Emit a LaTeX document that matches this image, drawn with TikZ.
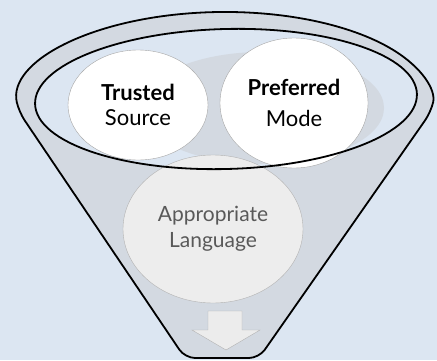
\documentclass[tikz,border=0pt]{standalone}
\usepackage{fontspec}
\setmainfont{Lato}
\usepackage{tikz}
\usetikzlibrary{shapes.geometric, positioning}
\definecolor{bgblue}{HTML}{DCE6F2}
\definecolor{funnelgray}{HTML}{D3D9E1}
\definecolor{langgray}{HTML}{EDEDED}
\definecolor{langtext}{HTML}{595959}
\tikzstyle{funnelline} = [line width=1.8pt, draw=black]
\tikzstyle{topstate} = [ellipse, draw=gray!70, fill=white, inner sep=0pt, align=center, text centered, font=\fontsize{22}{25}\selectfont]
\tikzstyle{langstate} = [ellipse, draw=gray!60, fill=langgray, inner sep=0pt, align=center, text centered, text=langtext, font=\fontsize{21}{26}\selectfont]

\begin{document}
\begin{tikzpicture}[x=1pt,y=1pt]
    \fill[bgblue] (0,0) rectangle (437,360);
    \useasboundingbox (0,0) rectangle (437,360);
    % funnel body
    \filldraw[funnelline, fill=funnelgray, rounded corners=10pt]
      (19,248) arc[start angle=185.7, end angle=-5.7, x radius=207, y radius=91]
      -- (259,2) -- (185,2) -- cycle;
    % mouth of the funnel
    \fill[bgblue, rotate around={1.5:(226,261)}] (226,261) ellipse[x radius=191, y radius=70];
    \begin{scope}
      \clip[rotate around={1.5:(226,261)}] (226,261) ellipse[x radius=191, y radius=70];
      \fill[funnelgray] (262,252) ellipse[x radius=122, y radius=56];
    \end{scope}
    \node[langstate, minimum width=180pt, minimum height=148pt](language) at (213,131){Appropriate\\Language};
   	\node[topstate, minimum width=140pt, minimum height=110pt](trusted) at (138,255){\textbf{Trusted}\\Source};
   	\node[topstate, minimum width=148pt, minimum height=130pt](preferred) at (294,257){\textbf{Preferred}\\[6pt]Mode};
    \draw[funnelline, rotate around={1.5:(226,261)}] (226,261) ellipse[x radius=191, y radius=70];
    % output arrow
    \filldraw[draw=gray!60, fill=gray!15] (208,49) -- (242,49) -- (242,30) -- (260,30)
      -- (226,10) -- (192,30) -- (208,30) -- cycle;
\end{tikzpicture}
\end{document}
